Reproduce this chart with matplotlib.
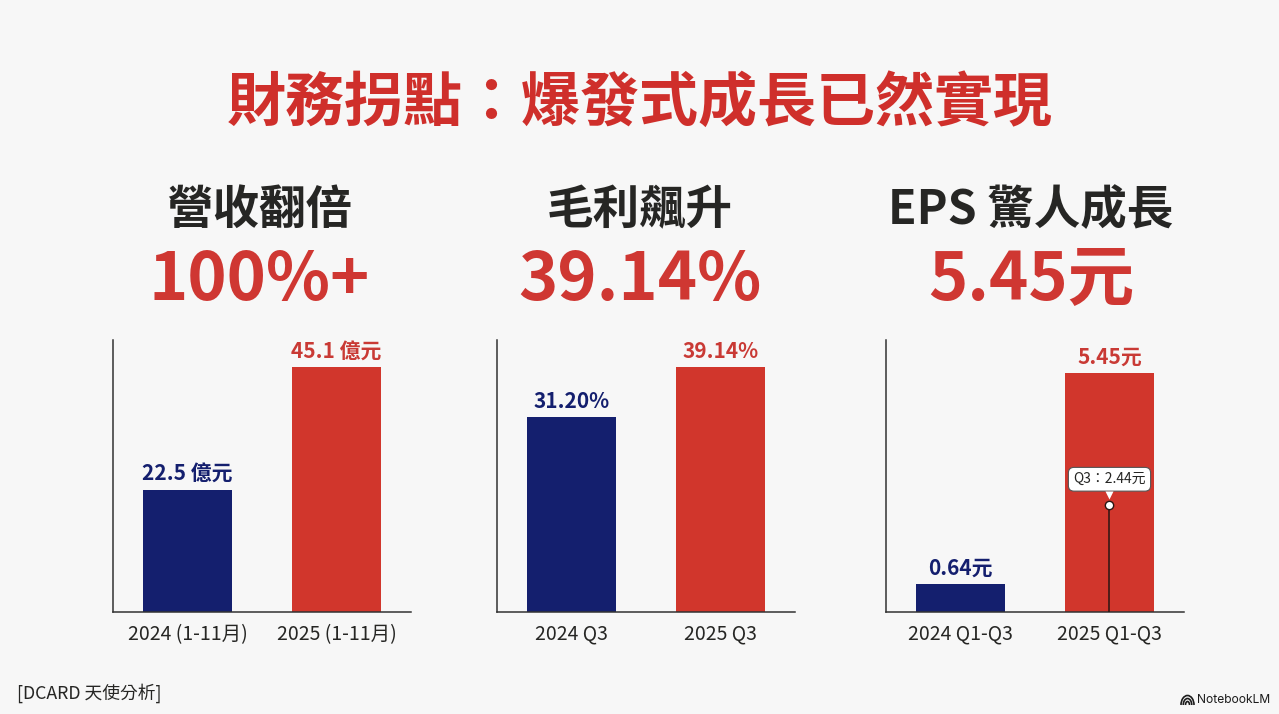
import matplotlib

matplotlib.use("Agg")
import matplotlib.pyplot as plt
from matplotlib.patches import Arc
from matplotlib.transforms import offset_copy

plt.rcParams["font.family"] = ["Noto Sans CJK TC", "DejaVu Sans"]

WIDTH, HEIGHT = 1279, 714
BACKGROUND = "#f7f7f7"
NAVY = "#141f6e"
RED = "#d1362c"
LABEL_RED = "#c93a35"
DARK = "#262624"

# \uff1a is the full-width colon
title = "財務拐點\uff1a爆發式成長已然實現"
source = "[DCARD 天使分析]"

headings = ["營收翻倍", "毛利飆升", "EPS 驚人成長"]
highlights = ["100%+", "39.14%", "5.45元"]

revenue_ticks = ["2024 (1-11月)", "2025 (1-11月)"]
revenue_values = [22.5, 45.1]
revenue_labels = ["22.5 億元", "45.1 億元"]

margin_ticks = ["2024 Q3", "2025 Q3"]
margin_values = [31.20, 39.14]
margin_labels = ["31.20%", "39.14%"]

eps_ticks = ["2024 Q1-Q3", "2025 Q1-Q3"]
eps_values = [0.64, 5.45]
eps_labels = ["0.64元", "5.45元"]
eps_q3 = 2.44
eps_q3_label = "Q3\uff1a2.44元"


def px_axes(fig, left, top, right, bottom):
    return fig.add_axes([left / WIDTH, 1 - bottom / HEIGHT, (right - left) / WIDTH, (bottom - top) / HEIGHT])


def px_text(fig, x, y, text, **kwargs):
    kwargs.setdefault("ha", "center")
    kwargs.setdefault("va", "center")
    fig.text(x / WIDTH, 1 - y / HEIGHT, text, **kwargs)


def bar_panel(fig, left, ticks, values, labels, ymax):
    ax = px_axes(fig, left, 340, left + 298, 612)
    ax.set_facecolor("none")
    ax.bar([0, 1], values, width=0.6, color=[NAVY, RED])
    ax.set_xlim(-0.5, 1.5)
    ax.set_ylim(0, ymax)
    ax.set_xticks([0, 1], ticks)
    ax.set_yticks([])
    ax.tick_params(axis="x", length=0, pad=8.5, labelsize=14, labelcolor=DARK)
    for side in ["top", "right"]:
        ax.spines[side].set_visible(False)
    for side in ["left", "bottom"]:
        ax.spines[side].set_color("#333333")
        ax.spines[side].set_linewidth(1.1)
    for i, value in enumerate(values):
        ax.annotate(
            labels[i],
            (i, value),
            xytext=(0, 3.5),
            textcoords="offset points",
            ha="center",
            va="bottom",
            fontsize=15,
            fontweight="bold",
            color=NAVY if i == 0 else LABEL_RED,
        )
    return ax


fig = plt.figure(figsize=(WIDTH / 100, HEIGHT / 100), dpi=100, facecolor=BACKGROUND)

px_text(fig, 640, 104, title, fontsize=42.5, fontweight="bold", color="#cf2f2b")

centers = [259, 640, 1031]
for center, heading, highlight in zip(centers, headings, highlights):
    px_text(fig, center, 210, heading, fontsize=33.5, fontweight="bold", color=DARK)
    px_text(fig, center, 281, highlight, fontsize=48, fontweight="bold", color="#cf3732")

bar_panel(fig, 113, revenue_ticks, revenue_values, revenue_labels, 50.1)
bar_panel(fig, 497, margin_ticks, margin_values, margin_labels, 43.5)
ax_eps = bar_panel(fig, 886, eps_ticks, eps_values, eps_labels, 6.2)

# Q3 marker on the 2025 EPS bar, with its callout
ax_eps.vlines(1, 0, eps_q3, color="#2a1512", linewidth=1.1, zorder=4)
ax_eps.plot(1, eps_q3, "o", ms=6, mfc="white", mec="#2a1512", mew=1, zorder=5)
ax_eps.annotate(
    eps_q3_label,
    (1, eps_q3),
    xytext=(0, 18.5),
    textcoords="offset points",
    ha="center",
    va="center",
    fontsize=10,
    color=DARK,
    zorder=7,
    bbox=dict(boxstyle="round,pad=0.35,rounding_size=0.4", fc="white", ec="#555555", lw=0.8),
)
pointer = offset_copy(ax_eps.transData, fig=fig, x=0, y=7.5, units="points")
ax_eps.plot(1, eps_q3, marker="v", ms=6, mfc="white", mec="none", zorder=8, transform=pointer)

px_text(fig, 17, 693, source, ha="left", fontsize=12.8, color=DARK)

# NotebookLM badge in the lower right corner
px_text(fig, 1197, 700, "NotebookLM", ha="left", fontsize=8.7, color="#1c1c1c", family=["Inter", "DejaVu Sans"])
badge = px_axes(fig, 1178, 692, 1196, 707)
badge.set_xlim(1178, 1196)
badge.set_ylim(707, 692)
badge.axis("off")
for w, h in [(13, 19), (8.5, 13), (4, 7)]:
    badge.add_patch(Arc((1187.5, 705), w, h, theta1=180, theta2=360, color="#1c1c1c", lw=1.2))

fig.savefig("out.png", dpi=100, facecolor=BACKGROUND)
